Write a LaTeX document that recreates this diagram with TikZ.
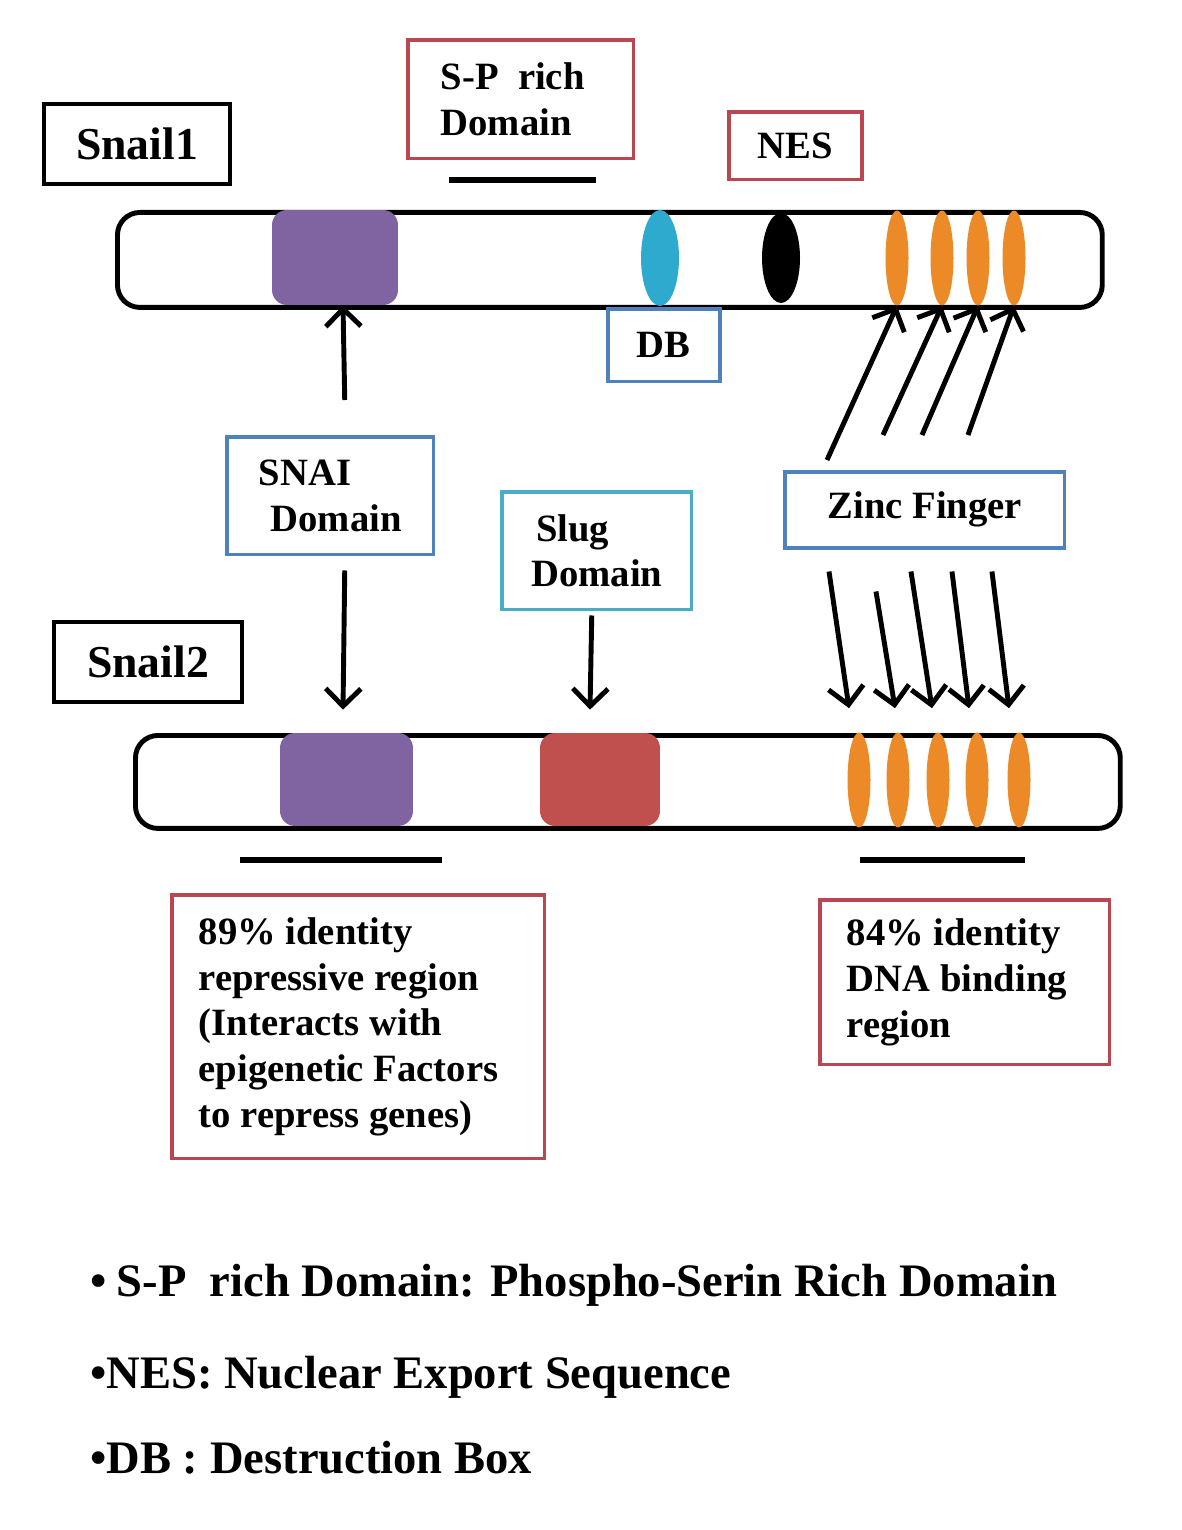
\documentclass[tikz,border=0pt]{standalone}
\usepackage{fontspec}
\setmainfont{Liberation Serif}
\usetikzlibrary{shapes.geometric,arrows.meta}

\definecolor{boxred}{RGB}{185,70,80}
\definecolor{boxblue}{RGB}{79,129,189}
\definecolor{boxcyan}{RGB}{75,172,198}
\definecolor{snaipurple}{RGB}{128,100,162}
\definecolor{slugred}{RGB}{192,80,77}
\definecolor{dbcyan}{RGB}{45,170,205}
\definecolor{zforange}{RGB}{236,138,40}

\tikzstyle{every node}=[font={\bfseries\fontsize{22}{26}\selectfont}, inner sep=0pt]
\tikzstyle{namebox}=[draw=black, line width=2.3pt, anchor=north west, font={\bfseries\fontsize{26}{30}\selectfont}]
\tikzstyle{redbox}=[draw=boxred, line width=2pt, anchor=north west, align=flush left]
\tikzstyle{bluebox}=[redbox, draw=boxblue]
\tikzstyle{cyanbox}=[redbox, draw=boxcyan]
\tikzstyle{protbar}=[draw=black, line width=2.8pt, rounded corners=0.45cm, anchor=north west, minimum width=19.7cm]
\tikzstyle{snaidom}=[fill=snaipurple, rounded corners=0.3cm]
\tikzstyle{slugdom}=[fill=slugred, rounded corners=0.3cm, minimum width=2.4cm, minimum height=1.86cm]
\tikzstyle{dbmark}=[ellipse, fill=dbcyan, minimum width=0.76cm, minimum height=1.92cm]
\tikzstyle{nesmark}=[ellipse, fill=black, minimum width=0.76cm, minimum height=1.8cm]
\tikzstyle{zfinger}=[ellipse, fill=zforange, minimum width=0.46cm, minimum height=1.9cm]
\tikzstyle{arr}=[line width=2.8pt, line join=round, -{Straight Barb[length=10pt,width=20pt]}]
\tikzstyle{regline}=[line width=3.4pt]
\tikzstyle{legend}=[anchor=west, font={\bfseries\fontsize{26.5}{30}\selectfont}]

\begin{document}
\begin{tikzpicture}[x=0.02cm, y=-0.02cm]
    \useasboundingbox (0,0) rectangle (1181,1530);

    % Snail1
    \node [namebox, minimum width=3.72cm, minimum height=1.6cm] (snail1) at (42,102) {Snail1};
    \node [redbox, minimum width=4.52cm, minimum height=2.38cm, inner xsep=0.66cm, text width=3.2cm] (spbox) at (406,38) {S-P\enspace rich\\Domain};
    \draw [regline] (449,180) -- (596,180);
    \node [redbox, minimum width=2.66cm, minimum height=1.36cm] (nesbox) at (727,110) {NES};
    \node [protbar, minimum height=1.9cm] (bar1) at (115,210) {};
    \node [snaidom, minimum width=2.52cm, minimum height=1.9cm] (snai1) at (335,257.5) {};
    \node [dbmark] (db) at (660,258) {};
    \node [nesmark] (nes) at (781,258) {};
    \node [zfinger] (zfa1) at (897,258) {};
    \node [zfinger] (zfa2) at (942,258) {};
    \node [zfinger] (zfa3) at (978,258) {};
    \node [zfinger] (zfa4) at (1014,258) {};
    \node [bluebox, minimum width=2.24cm, minimum height=1.46cm] (dbbox) at (606,307) {DB};

    % domain labels
    \node [bluebox, minimum width=4.14cm, minimum height=2.36cm] (snaibox) at (225,435) {SNAI\\\hspace*{0.24cm}Domain};
    \node [cyanbox, minimum width=3.8cm, minimum height=2.36cm] (slugbox) at (500,490) {\hspace*{0.1cm}Slug\\Domain};
    \node [bluebox, minimum width=5.6cm, minimum height=1.52cm] (zincbox) at (783,470) {Zinc Finger};

    % Snail2
    \node [namebox, minimum width=3.76cm, minimum height=1.6cm] (snail2) at (52,620) {Snail2};
    \node [protbar, minimum height=1.86cm] (bar2) at (133,733) {};
    \node [snaidom, minimum width=2.66cm, minimum height=1.86cm] (snai2) at (346.5,779.5) {};
    \node [slugdom] (slug2) at (600,779.5) {};
    \node [zfinger] (zfb1) at (859,780) {};
    \node [zfinger] (zfb2) at (898,780) {};
    \node [zfinger] (zfb3) at (938,780) {};
    \node [zfinger] (zfb4) at (977,780) {};
    \node [zfinger] (zfb5) at (1019,780) {};
    \draw [regline] (240,860) -- (442,860);
    \draw [regline] (860,860) -- (1025,860);

    % arrows
    \draw [arr] ([xshift=0.29cm,yshift=0.7cm]snaibox.north) -- ([xshift=0.16cm]snai1.south);
    \draw [arr] ([xshift=0.29cm,yshift=-0.28cm]snaibox.south) -- ([xshift=-0.07cm,yshift=0.46cm]snai2.north);
    \draw [arr] ([xshift=-0.1cm,yshift=-0.08cm]slugbox.south) -- ([xshift=-0.2cm,yshift=0.46cm]slug2.north);
    \draw [arr] ([xshift=0.88cm,yshift=0.2cm]zincbox.north west) -- (zfa1.south);
    \draw [arr] ([xshift=2.0cm,yshift=0.7cm]zincbox.north west) -- (zfa2.south);
    \draw [arr] ([xshift=2.78cm,yshift=0.7cm]zincbox.north west) -- (zfa3.south);
    \draw [arr] ([xshift=3.7cm,yshift=0.7cm]zincbox.north west) -- (zfa4.south);
    \draw [arr] ([xshift=0.92cm,yshift=-0.44cm]zincbox.south west) -- ([xshift=-0.2cm,yshift=0.48cm]zfb1.north);
    \draw [arr] ([xshift=1.86cm,yshift=-0.84cm]zincbox.south west) -- ([xshift=-0.06cm,yshift=0.48cm]zfb2.north);
    \draw [arr] ([xshift=2.56cm,yshift=-0.44cm]zincbox.south west) -- ([xshift=-0.12cm,yshift=0.48cm]zfb3.north);
    \draw [arr] ([xshift=3.38cm,yshift=-0.44cm]zincbox.south west) -- ([xshift=-0.16cm,yshift=0.48cm]zfb4.north);
    \draw [arr] ([xshift=4.18cm,yshift=-0.44cm]zincbox.south west) -- ([xshift=-0.2cm,yshift=0.48cm]zfb5.north);

    % identity regions
    \node [redbox, minimum width=7.46cm, minimum height=5.28cm, inner xsep=0.54cm, text width=6.38cm] (repbox) at (170,893) {89\% identity\\repressive region\\(Interacts with\\epigenetic Factors\\to repress genes)};
    \node [redbox, minimum width=5.8cm, minimum height=3.3cm, inner xsep=0.54cm, text width=4.72cm] (dnabox) at (818,898) {84\% identity\\DNA binding\\region};

    % legend
    \node [legend] (leg1) at (90,1285) {•\hspace{0.2cm}S-P\enspace rich Domain: Phospho-Serin Rich Domain};
    \node [legend] (leg2) at (90,1377) {•NES: Nuclear Export Sequence};
    \node [legend] (leg3) at (90,1458) {•DB : Destruction Box};
\end{tikzpicture}
\end{document}
